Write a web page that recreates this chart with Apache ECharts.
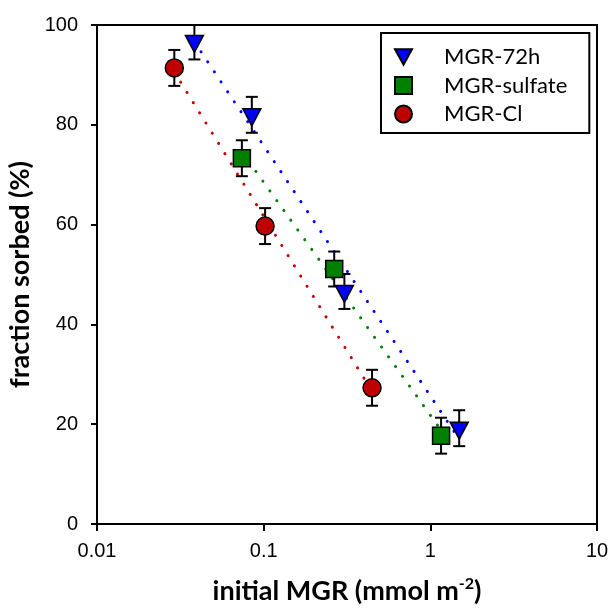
<!DOCTYPE html>
<html>
<head>
<meta charset="utf-8">
<script src="https://cdn.jsdelivr.net/npm/echarts@6/dist/echarts.min.js"></script>
<style>
  html, body { margin: 0; padding: 0; background: #fff; }
  #chart { width: 611px; height: 608px; }
</style>
</head>
<body>
<div id="chart"></div>
<script>
// Sorption data: initial MGR loading (mmol m^-2) vs. fraction sorbed (%), with error (±)
const seriesNames = ['MGR-72h', 'MGR-sulfate', 'MGR-Cl'];

const h72X   = [0.0384, 0.0849, 0.305, 1.49];
const h72Y   = [96.7, 82.0, 46.6, 19.2];
const h72Err = [3.6, 3.6, 3.5, 3.6];

const sulfX   = [0.0740, 0.265, 1.16];
const sulfY   = [73.3, 51.1, 17.7];
const sulfErr = [3.6, 3.5, 3.6];

const clX   = [0.0291, 0.102, 0.447];
const clY   = [91.4, 59.7, 27.3];
const clErr = [3.6, 3.6, 3.6];

const xTicks = [0.01, 0.1, 1, 10];
const yTicks = [0, 20, 40, 60, 80, 100];

const colors = { h72: '#0000ff', sulf: '#008000', cl: '#c00000' };

// Least-squares fit of y against log10(x); returns the fitted segment over the data range
function semilogFit(xs, ys) {
  const lx = xs.map(Math.log10);
  const n = lx.length;
  const mx = lx.reduce((a, b) => a + b, 0) / n;
  const my = ys.reduce((a, b) => a + b, 0) / n;
  let sxy = 0, sxx = 0;
  for (let i = 0; i < n; i++) {
    sxy += (lx[i] - mx) * (ys[i] - my);
    sxx += (lx[i] - mx) * (lx[i] - mx);
  }
  const b = sxy / sxx, a = my - b * mx;
  const x0 = Math.min(...xs), x1 = Math.max(...xs);
  return [[x0, a + b * Math.log10(x0)], [x1, a + b * Math.log10(x1)]];
}

function pairs(xs, ys) { return xs.map((x, i) => [x, ys[i]]); }
function errRows(xs, ys, es) { return xs.map((x, i) => [x, ys[i] - es[i], ys[i] + es[i]]); }

function fitLine(name, xs, ys, color) {
  return {
    name: name + ' fit', type: 'line', data: semilogFit(xs, ys),
    symbol: 'none', silent: true, z: 1,
    lineStyle: { color: color, width: 3, type: [0.1, 11.9], cap: 'round' }
  };
}

function errorBars(xs, ys, es) {
  return {
    type: 'custom', z: 2, clip: true, silent: true,
    data: errRows(xs, ys, es),
    encode: { x: 0, y: [1, 2] },
    renderItem: function (params, api) {
      const lo = api.coord([api.value(0), api.value(1)]);
      const hi = api.coord([api.value(0), api.value(2)]);
      const w = 6;
      const st = { stroke: '#000', lineWidth: 2, fill: null };
      return {
        type: 'group',
        children: [
          { type: 'line', shape: { x1: lo[0], y1: lo[1], x2: hi[0], y2: hi[1] }, style: st },
          { type: 'line', shape: { x1: lo[0] - w, y1: lo[1], x2: lo[0] + w, y2: lo[1] }, style: st },
          { type: 'line', shape: { x1: hi[0] - w, y1: hi[1], x2: hi[0] + w, y2: hi[1] }, style: st }
        ]
      };
    }
  };
}

const downTri = 'path://M0,0 L20,0 L10,18 Z';

const chart = echarts.init(document.getElementById('chart'), null, { renderer: 'canvas' });

chart.setOption({
  animation: false,
  backgroundColor: '#fff',
  grid: {
    left: 97, right: 14, top: 25, bottom: 84,
    outerBoundsMode: 'none', containLabel: false,
    show: true, borderColor: '#000', borderWidth: 2, backgroundColor: 'transparent'
  },
  legend: {
    orient: 'vertical',
    left: 381, top: 33,
    data: seriesNames.map((n, i) => ({ name: n, icon: i === 0 ? downTri : (i === 1 ? 'rect' : 'circle') })),
    itemWidth: 17, itemHeight: 17, itemGap: 6.5,
    padding: [13, 22, 8, 13],
    borderColor: '#000', borderWidth: 2,
    backgroundColor: '#fff',
    textStyle: { fontFamily: 'Lato', fontSize: 22, color: '#000', padding: [0, 0, 0, 27], lineHeight: 17 }
  },
  xAxis: {
    type: 'log', logBase: 10, min: xTicks[0], max: xTicks[xTicks.length - 1],
    name: 'initial MGR (mmol m{sup|-2})',
    nameLocation: 'middle', nameGap: 52,
    nameTextStyle: {
      fontFamily: 'Lato', fontWeight: 'bold', fontSize: 27, color: '#000', lineHeight: 30,
      rich: { sup: { fontFamily: 'Lato', fontWeight: 'bold', fontSize: 16, verticalAlign: 'top', lineHeight: 30 } }
    },
    axisLine: { lineStyle: { color: '#000', width: 2 } },
    axisTick: { show: true, inside: false, length: 7, lineStyle: { color: '#000', width: 2 } },
    minorTick: { show: false },
    splitLine: { show: false },
    axisLabel: {
      margin: 17, color: '#000', fontFamily: 'Liberation Sans', fontSize: 20,
      formatter: v => String(+Number(v).toPrecision(6))
    }
  },
  yAxis: {
    type: 'value', min: yTicks[0], max: yTicks[yTicks.length - 1], interval: yTicks[1] - yTicks[0],
    name: 'fraction sorbed (%)',
    nameLocation: 'middle', nameGap: 56,
    nameTextStyle: { fontFamily: 'Lato', fontWeight: 'bold', fontSize: 27, color: '#000' },
    axisLine: { show: true, lineStyle: { color: '#000', width: 2 } },
    axisTick: { show: true, inside: false, length: 6, lineStyle: { color: '#000', width: 2 } },
    splitLine: { show: false },
    axisLabel: { margin: 19, color: '#000', fontFamily: 'Liberation Sans', fontSize: 20 }
  },
  series: [
    fitLine(seriesNames[0], h72X, h72Y, colors.h72),
    fitLine(seriesNames[1], sulfX, sulfY, colors.sulf),
    fitLine(seriesNames[2], clX, clY, colors.cl),
    errorBars(h72X, h72Y, h72Err),
    errorBars(sulfX, sulfY, sulfErr),
    errorBars(clX, clY, clErr),
    {
      name: seriesNames[2], type: 'scatter', z: 3, data: pairs(clX, clY),
      symbol: 'circle', symbolSize: 18,
      itemStyle: { color: colors.cl, borderColor: '#000', borderWidth: 1.5, opacity: 1 }
    },
    {
      name: seriesNames[1], type: 'scatter', z: 4, data: pairs(sulfX, sulfY),
      symbol: 'rect', symbolSize: 17,
      itemStyle: { color: colors.sulf, borderColor: '#000', borderWidth: 1.5, opacity: 1 }
    },
    {
      name: seriesNames[0], type: 'scatter', z: 5, data: pairs(h72X, h72Y),
      symbol: downTri, symbolSize: [18, 17], symbolOffset: [0, 2.5],
      itemStyle: { color: colors.h72, borderColor: '#000', borderWidth: 1.5, opacity: 1 }
    }
  ]
});
</script>
</body>
</html>
